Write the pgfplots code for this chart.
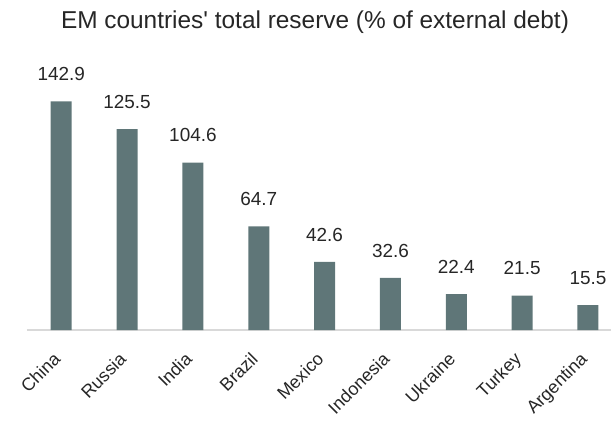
\documentclass[border=0pt]{standalone}
\usepackage{pgfplots}
\pgfplotsset{compat=1.18}
\usepackage{fontspec}
\setmainfont{Liberation Sans}
\definecolor{barc}{RGB}{95,118,120}
\begin{document}
\begin{tikzpicture}
\path[use as bounding box] (-27bp,-92bp) rectangle (584bp,330bp);
\begin{axis}[
 scale only axis, width=584bp, height=320bp,
 xmin=-0.52, xmax=8.35, ymin=0, ymax=200,
 axis y line=none, axis x line=bottom,
 x axis line style={-, draw=black!15, line width=1.5bp},
 xtick=data,
 xticklabels={China,Russia,India,Brazil,Mexico,Indonesia,Ukraine,Turkey,Argentina},
 major tick length=0,
 xticklabel style={xshift=-9bp, yshift=-21bp, rotate=45, anchor=north east, font=\fontsize{18}{18}\selectfont, text=black!85, inner sep=0pt},
 ybar, bar width=21bp,
 point meta=explicit symbolic,
 nodes near coords,
 nodes near coords style={font=\fontsize{19}{19}\selectfont, text=black!85, anchor=south, yshift=17bp},
 clip=false,
]
\addplot[fill=barc, draw=none] coordinates {
(0,142.9) [142.9]
(1,125.5) [125.5]
(2,104.6) [104.6]
(3,64.7) [64.7]
(4,42.6) [42.6]
(5,32.6) [32.6]
(6,22.4) [22.4]
(7,21.5) [21.5]
(8,15.5) [15.5]
};
\end{axis}
\node[font=\fontsize{24.5}{24.5}\selectfont, text=black!85] at (288bp,308bp) {EM countries\textquotesingle{} total reserve (\% of external debt)};
\end{tikzpicture}
\end{document}
